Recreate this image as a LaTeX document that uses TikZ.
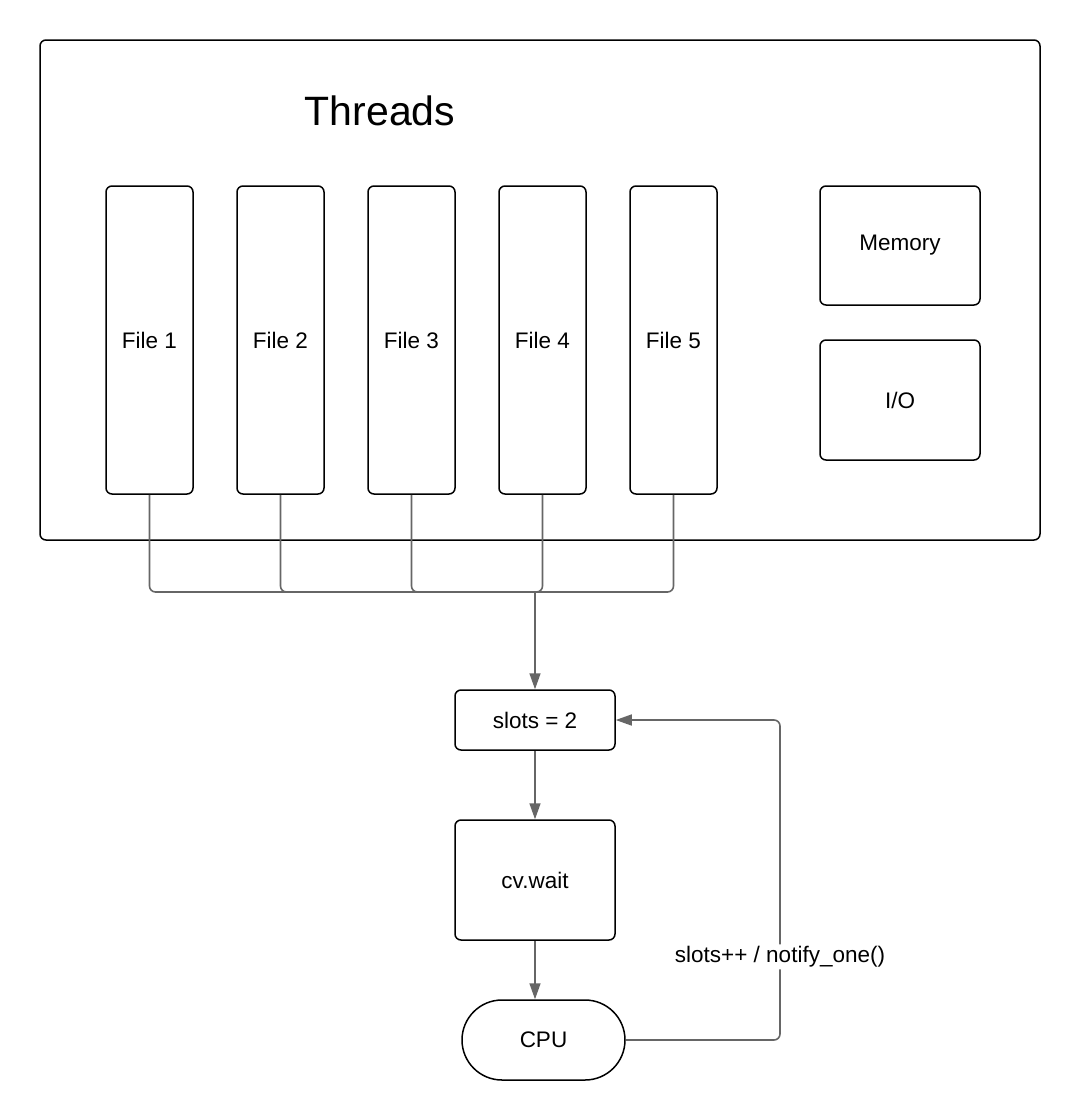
\documentclass[tikz,border=0pt]{standalone}
\usepackage{fontspec}
\setmainfont{Liberation Sans}
\usepackage{tikz}
\usetikzlibrary{arrows.meta}
\usetikzlibrary{shapes.misc}
\definecolor{wire}{HTML}{666666}
\tikzset{
    box/.style={draw=black, line width=1.5pt, rounded corners=6pt, inner sep=0pt},
    conn/.style={draw=wire, line width=1.6pt, rounded corners=6pt},
    tip/.style={-{Triangle[length=16pt, width=11pt]}},
    lbl/.style={font=\fontsize{22.5}{27}\selectfont}}

\begin{document}
\begin{tikzpicture}[x=1pt, y=-1pt]

        \useasboundingbox (0,0) rectangle (1080,1120);

                \node[box, minimum width=1000pt, minimum height=500pt] (threads) at (540,290) {};
                \node[font=\fontsize{41}{47}\selectfont] (title) at (380,111) {Threads};

                \foreach \i in {1,...,5} {
                    \node[box, lbl, minimum width=87pt, minimum height=308pt] (f\i) at ({149.5+131*(\i-1)},340) {File \i};
                }

                \node[box, lbl, minimum width=160pt, minimum height=119pt] (mem) at (900,245.5) {Memory};
                \node[box, lbl, minimum width=160pt, minimum height=120pt] (io) at (900,400) {I/O};

                \node[box, lbl, minimum width=160pt, minimum height=60pt] (slots) at (535,720) {slots = 2};
                \node[box, lbl, minimum width=160pt, minimum height=120pt] (wait) at (535,880) {cv.wait};
                \node[box, lbl, rounded rectangle, rounded corners=0pt, minimum width=163pt, minimum height=80pt] (cpu) at (543.5,1040) {CPU};

                \coordinate (bus) at (535,592);
                \coordinate (ret) at (780,1040);

                % threads join into one line
                \foreach \i in {1,...,5} {
                    \draw[conn] (f\i.south) |- (bus);
                }
                \draw[conn, tip] (bus) -- (slots.north);

                \draw[conn, tip] (slots.south) -- (wait.north);
                \draw[conn, tip] (wait.south) -- (wait.south |- cpu.north);
                \draw[conn, tip] (cpu.east) -- (ret) |- (slots.east) node[lbl, pos=0.13, fill=white, inner sep=2pt] {slots++ / notify\_one()};

\end{tikzpicture}
\end{document}
